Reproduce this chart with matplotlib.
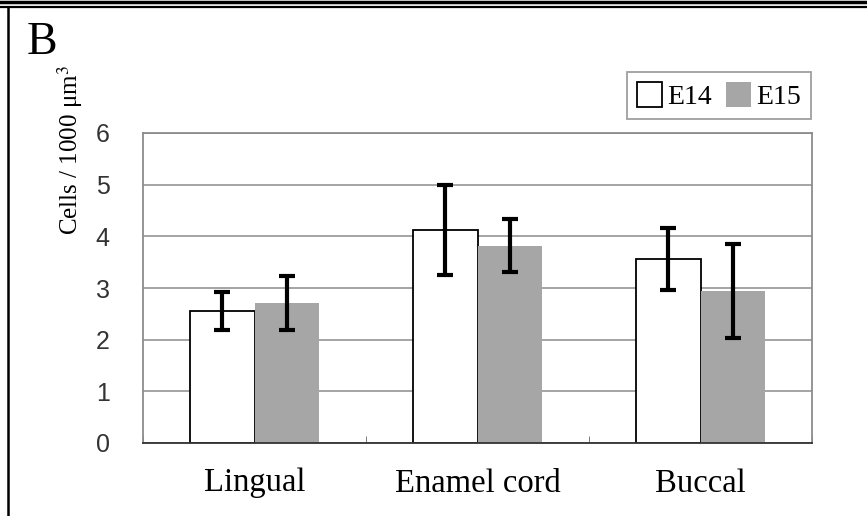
import matplotlib.pyplot as plt
import numpy as np
from matplotlib.patches import Patch
from matplotlib.lines import Line2D

plt.rcParams['mathtext.fontset'] = 'stix'

# data
categories = ['Lingual', 'Enamel cord', 'Buccal']
e14_mean = [2.55, 4.12, 3.56]
e14_err = [0.37, 0.87, 0.60]
e15_mean = [2.71, 3.82, 2.95]
e15_err = [0.53, 0.51, 0.91]
yticks = [0, 1, 2, 3, 4, 5, 6]

serif = 'Liberation Serif'
W, H = 867, 516
fig = plt.figure(figsize=(W / 100, H / 100), dpi=100)
ax = fig.add_axes([143 / W, 1 - 443 / H, (812 - 143) / W, (443 - 133) / H])

x = np.arange(len(categories))
bw = 0.287

ax.bar(x - bw / 2, e14_mean, bw, color='white', edgecolor='black', linewidth=1.3, zorder=2)
ax.bar(x + bw / 2, e15_mean, bw, color='#a6a6a6', edgecolor='none', zorder=2)
ax.errorbar(x - bw / 2, e14_mean, yerr=e14_err, fmt='none', ecolor='black',
            elinewidth=3, capsize=6, capthick=3, zorder=3)
ax.errorbar(x + bw / 2, e15_mean, yerr=e15_err, fmt='none', ecolor='black',
            elinewidth=3, capsize=6, capthick=3, zorder=3)

ax.set_xlim(-0.5, 2.5)
ax.set_ylim(0, 6)
ax.set_yticks(yticks)
ax.yaxis.grid(True, color='#8c8c8c', linewidth=1.1, zorder=0)
ax.set_axisbelow(True)
ax.tick_params(axis='y', length=0, pad=24, labelsize=18, labelcolor='#333333')
for lab in ax.get_yticklabels():
    lab.set_fontfamily('Liberation Sans')

ax.set_xticks(x)
ax.set_xticklabels(categories, fontfamily=serif, fontsize=23.5)
ax.tick_params(axis='x', length=0, pad=18)
ax.set_xticks([-0.5, 0.5, 1.5, 2.5], minor=True)
ax.tick_params(axis='x', which='minor', direction='in', length=5, color='#666666')

for s in ['top', 'right', 'left']:
    ax.spines[s].set_color('#8c8c8c')
    ax.spines[s].set_linewidth(1.3)
ax.spines['bottom'].set_color('#333333')
ax.spines['bottom'].set_linewidth(1.3)

fig.text(70 / W, 1 - 150 / H, 'Cells / 1000 μm$^{3}$', rotation=90, ha='center', va='center',
         fontfamily=serif, fontsize=18)
fig.text(27 / W, 1 - 54 / H, 'B', fontfamily=serif, fontsize=33, ha='left', va='baseline')

handles = [Patch(facecolor='white', edgecolor='black', linewidth=1.3),
           Patch(facecolor='#a6a6a6', edgecolor='none')]
leg = fig.legend(handles, ['E14', 'E15'], loc='upper right', bbox_to_anchor=(811 / W, 1 - 72 / H),
                 ncol=2, prop={'family': serif, 'size': 20}, frameon=True, fancybox=False,
                 handlelength=0.9, handleheight=1.0, handletextpad=0.2, columnspacing=0.5,
                 borderpad=0.35, borderaxespad=0)
leg.get_frame().set_edgecolor('#888888')
leg.get_frame().set_linewidth(1.3)

# border of the panel
fig.add_artist(Line2D([0, 1], [1 - 1.5 / H, 1 - 1.5 / H], color='black', linewidth=2.5))
fig.add_artist(Line2D([0, 1], [1 - 6.5 / H, 1 - 6.5 / H], color='black', linewidth=1.6))
fig.add_artist(Line2D([8 / W, 8 / W], [0, 1 - 6.5 / H], color='black', linewidth=1.8))

fig.savefig('out.png', dpi=100)
